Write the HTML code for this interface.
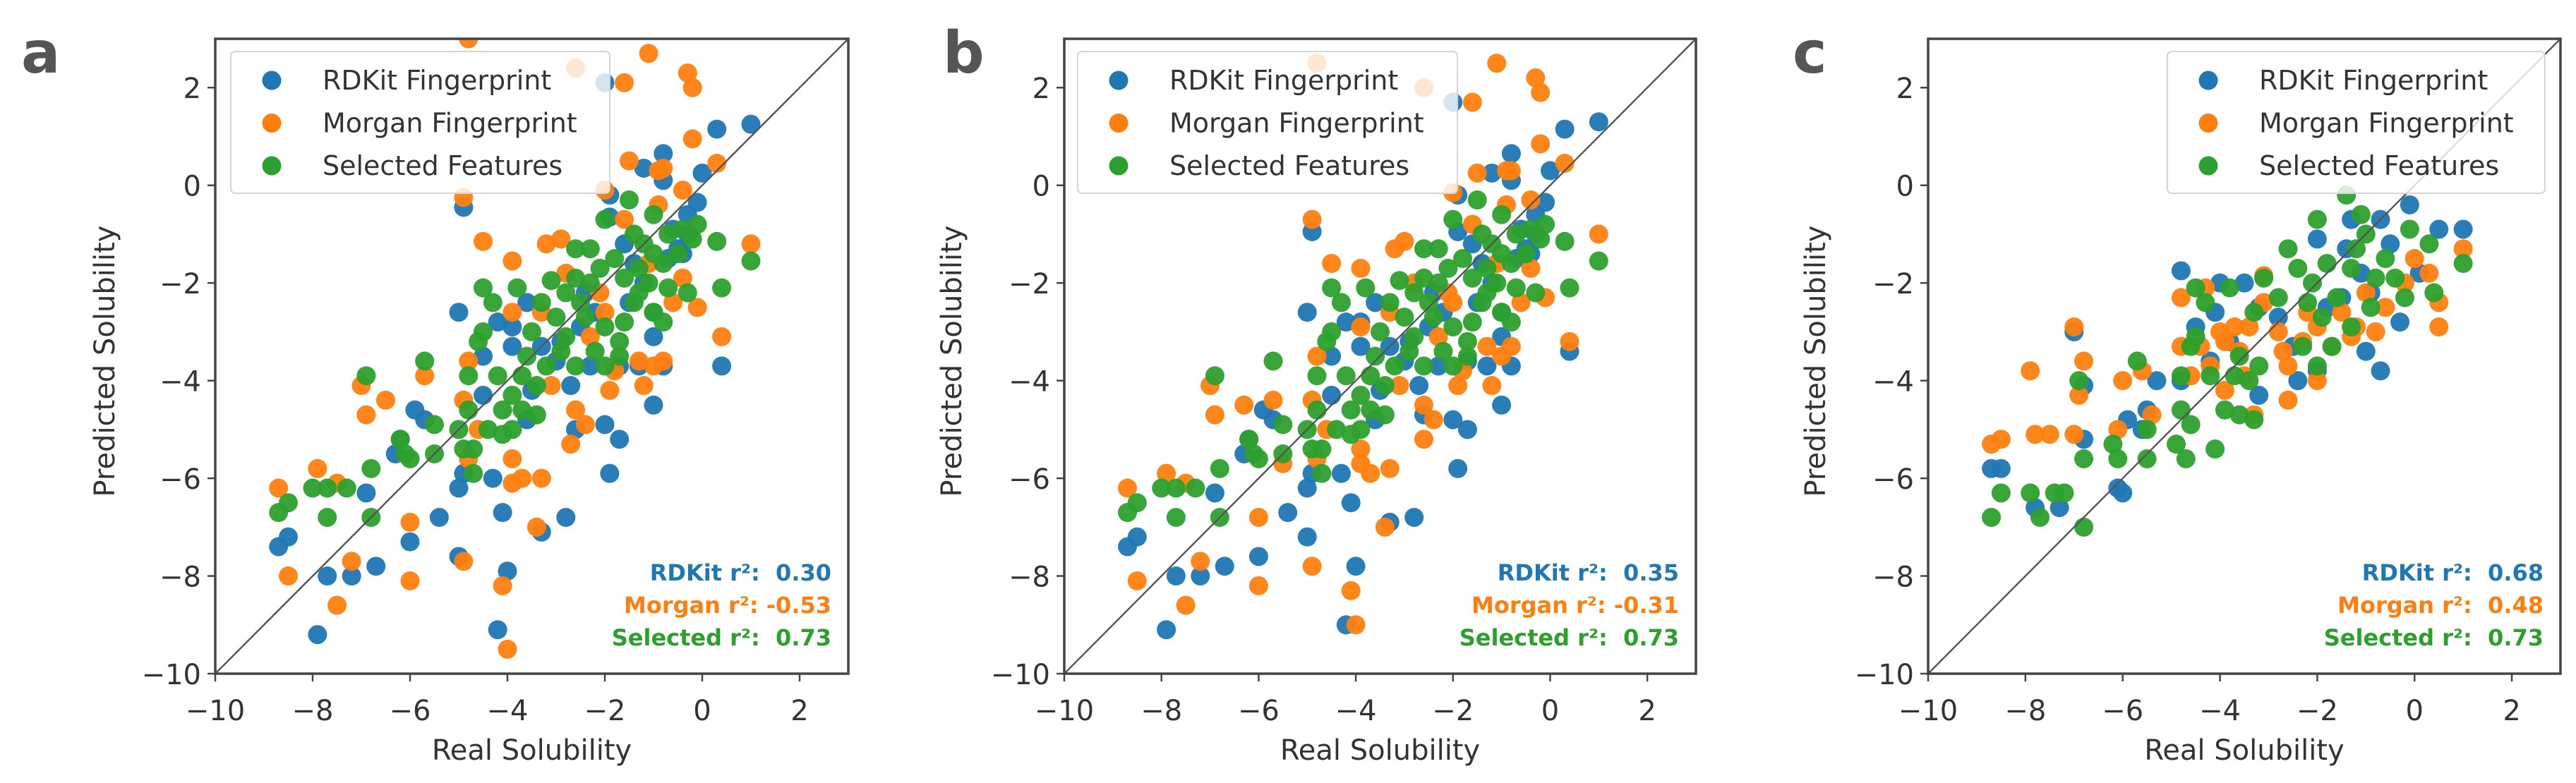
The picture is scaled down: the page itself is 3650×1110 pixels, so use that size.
<!DOCTYPE html>
<html><head><meta charset="utf-8">
<style>
html,body{margin:0;padding:0;background:#fff;}
svg{display:block;}
text{font-family:"DejaVu Sans","Liberation Sans",sans-serif;}
</style></head>
<body>
<svg id="fig" width="3650" height="1110" viewBox="0 0 3650 1110" xmlns="http://www.w3.org/2000/svg"></svg>
<script>
// ---------- data (x = real solubility, y = predicted solubility) ----------
const xTicks = [-10, -8, -6, -4, -2, 0, 2];
const yTicks = [-10, -8, -6, -4, -2, 0, 2];
const seriesNames = ["RDKit Fingerprint", "Morgan Fingerprint", "Selected Features"];
const panelLetters = ["a", "b", "c"];
const r2RDKit = ["0.30", "0.35", "0.68"];
const r2Morgan = ["-0.53", "-0.31", "0.48"];
const r2Selected = ["0.73", "0.73", "0.73"];

const aBlue = [[1.0,1.25],[0.3,1.15],[-0.8,0.65],[-0.8,0.1],[-1.2,0.35],[0,0.25],[-0.1,-0.35],[-0.3,-0.6],[-0.4,-1.4],[-1.9,-0.2],[-1.9,-0.65],[-4.9,-0.45],[-2,2.1],[-5,-2.6],[-4.5,-3.5],[-3.3,-3.3],[-3.6,-2.4],[-3.9,-2.9],[-2.5,-2.9],[-2.3,-3.7],[-2.7,-4.1],[-3.5,-4.2],[-1.7,-3.7],[-1.3,-3.7],[-1.0,-3.1],[-1.0,-4.5],[-0.8,-3.7],[0.4,-3.7],[-1.5,-2.4],[-1.0,-2.6],[-1.7,-5.2],[-1.9,-5.9],[-2.0,-4.9],[-2.6,-5.0],[-4.5,-4.3],[-5.9,-4.6],[-5.7,-4.8],[-6.2,-5.2],[-6.3,-5.5],[-4.9,-5.9],[-4.3,-6.0],[-5.0,-6.2],[-4.1,-6.7],[-3.3,-7.1],[-2.8,-6.8],[-5.4,-6.8],[-6.0,-7.3],[-6.9,-6.3],[-6.7,-7.8],[-7.2,-8.0],[-7.7,-8.0],[-7.9,-9.2],[-8.7,-7.4],[-8.5,-7.2],[-5.0,-7.6],[-4.0,-7.9],[-4.2,-9.1],[-2.2,-2.6],[-2.9,-3.2],[-0.5,-1.3],[-0.6,-0.9],[-1.4,-1.6],[-4.2,-2.8],[-3.6,-4.8],[-1.2,-2.0],[-0.3,-1.0],[-0.7,-1.5],[-1.6,-1.2],[-2.4,-2.2],[-3.0,-3.6],[-3.9,-3.3]];
const aOrange = [[-4.8,3.0],[-2.6,2.4],[-1.1,2.7],[-1.6,2.1],[-0.3,2.3],[-0.2,2.0],[-0.2,0.95],[0.3,0.45],[-1.5,0.5],[-0.9,0.3],[-0.8,0.35],[-2.0,-0.1],[-4.9,-0.25],[-0.4,-0.1],[-4.5,-1.15],[-3.9,-1.55],[-3.2,-1.2],[-2.9,-1.1],[-1.6,-0.7],[-0.9,-0.4],[-0.4,-1.9],[-0.1,-2.5],[0.4,-3.1],[1.0,-1.2],[-2.1,-2.2],[-2.8,-1.8],[-3.9,-2.6],[-3.3,-2.6],[-2.0,-2.6],[-1.3,-3.6],[-1.0,-3.7],[-0.8,-3.6],[-1.2,-4.1],[-1.8,-3.8],[-1.9,-4.2],[-3.1,-4.1],[-4.8,-3.6],[-4.9,-4.4],[-2.6,-4.6],[-2.4,-4.9],[-2.7,-5.3],[-5.7,-3.9],[-6.5,-4.4],[-6.9,-4.7],[-7.0,-4.1],[-4.6,-5.0],[-4.8,-5.6],[-3.9,-5.6],[-3.7,-6.0],[-3.3,-6.0],[-3.9,-6.1],[-7.9,-5.8],[-7.5,-6.1],[-8.7,-6.2],[-6.0,-6.9],[-6.0,-8.1],[-7.2,-7.7],[-7.5,-8.6],[-8.5,-8.0],[-4.9,-7.7],[-4.1,-8.2],[-4.0,-9.5],[-3.4,-7.0],[-1.1,-1.6],[-0.6,-2.4],[-2.3,-3.1]];
const aGreen = [[-1.5,-0.3],[-2.0,-0.7],[-1.0,-0.6],[-0.1,-0.8],[-0.2,-1.1],[0.3,-1.15],[1.0,-1.55],[-0.7,-1.0],[-0.4,-0.9],[-1.0,-1.4],[-1.4,-1.0],[-2.3,-1.3],[-2.6,-1.3],[-2.1,-1.7],[-2.6,-1.9],[-1.3,-1.7],[-0.8,-1.6],[-1.6,-1.9],[-2.3,-2.0],[-3.1,-1.95],[-3.8,-2.1],[-4.5,-2.1],[-4.3,-2.4],[-1.1,-2.0],[-0.7,-2.1],[-0.3,-2.2],[0.4,-2.1],[-2.8,-2.2],[-1.4,-2.4],[-1.0,-2.6],[-2.4,-2.7],[-3.3,-2.4],[-2.0,-2.9],[-1.6,-2.8],[-0.8,-2.8],[-2.8,-3.1],[-3.0,-2.7],[-1.7,-3.2],[-2.2,-3.4],[-4.5,-3.0],[-4.6,-3.2],[-3.6,-3.5],[-3.2,-3.7],[-2.6,-3.7],[-2.0,-3.7],[-1.7,-3.5],[-4.8,-3.9],[-4.2,-3.9],[-3.7,-3.9],[-3.4,-4.1],[-3.9,-4.3],[-4.1,-4.6],[-3.7,-4.6],[-3.4,-4.7],[-4.8,-4.6],[-4.4,-5.0],[-3.9,-5.0],[-4.1,-5.1],[-5.0,-5.0],[-4.9,-5.4],[-4.7,-5.4],[-4.7,-5.9],[-5.5,-4.9],[-5.5,-5.5],[-5.7,-3.6],[-6.2,-5.2],[-6.1,-5.5],[-6.0,-5.6],[-6.9,-3.9],[-6.8,-5.8],[-6.8,-6.8],[-7.7,-6.8],[-7.7,-6.2],[-7.3,-6.2],[-8.0,-6.2],[-8.5,-6.5],[-8.7,-6.7],[-1.2,-1.2],[-1.8,-1.5],[-0.5,-1.4],[-2.5,-2.4],[-3.5,-3.0],[-2.9,-3.4],[-1.3,-2.2]];

const bBlue = [[1.0,1.3],[0.3,1.15],[-0.8,0.65],[-0.8,0.1],[-1.2,0.25],[0,0.3],[-0.1,-0.35],[-0.3,-0.6],[-0.4,-1.4],[-1.9,-0.2],[-1.9,-0.95],[-4.9,-0.95],[-2,1.7],[-5,-2.6],[-4.5,-3.5],[-3.3,-3.3],[-3.6,-2.4],[-3.9,-2.8],[-2.5,-2.9],[-2.3,-3.7],[-2.7,-4.1],[-3.5,-4.2],[-1.7,-3.6],[-1.3,-3.7],[-1.0,-3.1],[-1.0,-4.5],[-0.8,-3.7],[0.4,-3.4],[-1.5,-2.4],[-1.0,-2.6],[-1.7,-5.0],[-1.9,-5.8],[-2.0,-4.8],[-2.6,-4.7],[-4.5,-4.3],[-5.9,-4.6],[-5.7,-4.8],[-6.2,-5.2],[-6.3,-5.5],[-4.9,-5.9],[-4.3,-5.9],[-5.0,-6.2],[-4.1,-6.5],[-3.3,-6.9],[-2.8,-6.8],[-5.4,-6.7],[-6.0,-7.6],[-6.9,-6.3],[-6.7,-7.8],[-7.2,-8.0],[-7.7,-8.0],[-7.9,-9.1],[-8.7,-7.4],[-8.5,-7.2],[-5.0,-7.2],[-4.0,-7.8],[-4.2,-9.0],[-2.2,-2.6],[-2.9,-3.2],[-0.5,-1.3],[-0.6,-0.9],[-1.4,-1.6],[-4.2,-2.8],[-3.6,-4.8],[-1.2,-2.0],[-0.3,-1.0],[-0.7,-1.5],[-1.6,-1.2],[-2.4,-2.2],[-3.0,-3.6],[-3.9,-3.3]];
const bOrange = [[-4.8,2.5],[-2.6,2.0],[-1.1,2.5],[-1.6,1.7],[-0.3,2.2],[-0.2,1.9],[-0.2,0.85],[0.3,0.45],[-1.5,0.25],[-0.9,0.3],[-0.8,0.3],[-2.0,-0.15],[-4.9,-0.7],[-0.4,-0.3],[-4.5,-1.6],[-3.9,-1.7],[-3.2,-1.3],[-3.0,-1.15],[-1.6,-0.8],[-0.9,-0.4],[-0.4,-1.7],[-0.1,-2.3],[0.4,-3.2],[1.0,-1.0],[-2.1,-2.2],[-2.8,-2.0],[-3.9,-2.9],[-3.3,-2.6],[-2.0,-2.4],[-1.3,-3.3],[-1.0,-3.5],[-0.8,-3.3],[-1.2,-4.1],[-1.8,-3.8],[-1.9,-4.1],[-3.1,-4.1],[-4.8,-3.5],[-4.9,-4.4],[-2.6,-4.5],[-2.4,-4.8],[-2.6,-5.2],[-5.7,-4.4],[-6.3,-4.5],[-6.9,-4.7],[-7.0,-4.1],[-4.6,-5.0],[-4.8,-5.6],[-3.9,-5.4],[-3.7,-5.9],[-3.3,-5.8],[-3.9,-5.7],[-7.9,-5.9],[-7.5,-6.1],[-8.7,-6.2],[-6.0,-6.8],[-6.0,-8.2],[-7.2,-7.7],[-7.5,-8.6],[-8.5,-8.1],[-4.9,-7.8],[-4.1,-8.3],[-4.0,-9.0],[-3.4,-7.0],[-5.5,-5.7],[-1.1,-1.6],[-0.6,-2.4],[-2.3,-3.1]];
const bGreen = aGreen;

const cBlue = [[1.0,-0.9],[0.5,-0.9],[-0.1,-0.4],[-0.7,-0.7],[-1.3,-0.7],[-2.0,-1.1],[-4.8,-1.75],[-4.0,-2.0],[-3.5,-2.0],[-4.1,-2.6],[-4.5,-2.9],[-3.2,-2.5],[-1.0,-3.4],[-0.7,-3.8],[-2.0,-3.8],[-2.4,-4.0],[-3.2,-4.3],[-4.8,-4.0],[-4.2,-3.6],[-5.3,-4.0],[-5.5,-4.6],[-5.9,-4.8],[-5.6,-5.0],[-6.8,-5.2],[-7.0,-3.0],[-6.8,-4.1],[-6.1,-6.2],[-6.0,-6.3],[-7.3,-6.6],[-7.8,-6.6],[-8.7,-5.8],[-8.5,-5.8],[-1.8,-2.5],[-1.1,-1.8],[-0.5,-1.2],[0.1,-1.8],[-2.5,-3.3],[-1.5,-2.3],[-3.8,-3.2],[-0.9,-2.2],[-0.3,-2.8],[-2.8,-2.7],[-1.4,-1.3]];
const cOrange = [[1.0,-1.3],[0.3,-1.8],[0.5,-2.4],[0.5,-2.9],[0.0,-1.5],[-0.2,-2.0],[-0.6,-2.5],[-0.8,-3.0],[-1.2,-2.9],[-1.5,-2.6],[-2.0,-2.9],[-2.3,-3.2],[-2.6,-3.7],[-2.8,-3.0],[-3.1,-2.4],[-3.1,-1.85],[-3.4,-2.9],[-3.6,-3.4],[-3.9,-3.2],[-4.2,-3.7],[-4.4,-3.3],[-4.8,-3.3],[-4.8,-2.3],[-4.3,-2.1],[-4.6,-3.9],[-3.9,-4.2],[-3.3,-4.7],[-2.6,-4.4],[-2.0,-4.0],[-1.7,-3.3],[-5.4,-4.7],[-5.6,-3.8],[-6.0,-4.0],[-6.1,-5.0],[-6.8,-3.6],[-6.9,-4.3],[-7.0,-2.9],[-7.9,-3.8],[-7.0,-5.1],[-7.5,-5.1],[-7.8,-5.1],[-8.5,-5.2],[-8.7,-5.3],[-1.0,-2.2],[-2.2,-2.6],[-3.5,-3.9],[-4.0,-3.0],[-1.3,-3.1],[-2.7,-3.4],[-3.7,-2.9]];
const cGreen = [[-1.4,-0.2],[-2.0,-0.7],[-1.1,-0.6],[-0.1,-0.9],[1.0,-1.6],[0.3,-1.2],[0.4,-2.2],[-0.2,-2.3],[-1.0,-1.0],[-0.6,-1.5],[-1.3,-1.7],[-2.6,-1.3],[-2.4,-1.7],[-2.1,-2.0],[-1.6,-2.3],[-0.9,-2.5],[-3.1,-1.9],[-3.8,-2.1],[-4.5,-2.1],[-4.3,-2.4],[-2.8,-2.3],[-1.9,-2.7],[-1.3,-2.9],[-3.3,-2.6],[-2.3,-3.3],[-2.0,-3.7],[-1.7,-3.3],[-3.6,-3.5],[-3.2,-3.7],[-4.5,-3.1],[-4.6,-3.3],[-4.8,-3.9],[-4.2,-3.9],[-3.7,-3.9],[-3.4,-4.0],[-3.9,-4.6],[-3.6,-4.7],[-3.3,-4.8],[-4.8,-4.6],[-4.6,-4.9],[-4.1,-5.4],[-4.9,-5.3],[-4.7,-5.6],[-5.5,-5.0],[-5.5,-5.6],[-5.7,-3.6],[-6.2,-5.3],[-6.1,-5.6],[-6.9,-4.0],[-6.8,-5.6],[-6.8,-7.0],[-7.2,-6.3],[-7.4,-6.3],[-7.7,-6.8],[-7.9,-6.3],[-8.5,-6.3],[-8.7,-6.8],[-1.2,-1.3],[-0.4,-1.9],[-1.8,-1.6],[-0.8,-1.9],[-2.2,-2.4]];

const panelSeries = [[aBlue,aOrange,aGreen],[bBlue,bOrange,bGreen],[cBlue,cOrange,cGreen]];

// ---------- layout ----------
const COLORS = ["#1f77b4","#ff7f0e","#2ca02c"];
const NS = "http://www.w3.org/2000/svg";
const svg = document.getElementById("fig");
const layouts = [
  {left:305, right:1202, letterX:30, ylabX:148, legL:327, legR:864},
  {left:1508, right:2403, letterX:1336, ylabX:1348, legL:1527, legR:2065},
  {left:2732, right:3628, letterX:2540, ylabX:2572, legL:3071, legR:3606}
];
const TOP = 55, BOTTOM = 955, XMIN = -10, XMAX = 3, YMIN = -10, YMAX = 3;

function el(tag, attrs, parent) {
  const e = document.createElementNS(NS, tag);
  for (const k in attrs) e.setAttribute(k, attrs[k]);
  (parent || svg).appendChild(e);
  return e;
}

layouts.forEach((L, p) => {
  const xs = v => L.left + (v - XMIN) / (XMAX - XMIN) * (L.right - L.left);
  const ys = v => BOTTOM - (v - YMIN) / (YMAX - YMIN) * (BOTTOM - TOP);
  const g = el("g", {});
  
  

  const clipId = "clip" + p;
  const cp = el("clipPath", {id: clipId}, g);
  el("rect", {x: L.left, y: TOP, width: L.right - L.left, height: BOTTOM - TOP}, cp);

  const lt = el("text", {x: L.letterX, y: 103, "font-size": 82, "font-weight": "bold", fill: "#555", "font-family": "Liberation Sans, sans-serif"}, g);
  lt.textContent = panelLetters[p];
  
  

  const pts = el("g", {"clip-path": "url(#" + clipId + ")"}, g);
  
  
  panelSeries[p].forEach((series, s) => {
    series.forEach(d => {
      const c = el("circle", {cx: xs(d[0]), cy: ys(d[1]), r: 13.5, fill: COLORS[s], "fill-opacity": 0.95}, pts);
      
      
    });
  });

  const diag = el("line", {x1: xs(-10), y1: ys(-10), x2: xs(3), y2: ys(3), stroke: "#555", "stroke-width": 2.4}, g);
  
  

  const lg = el("g", {}, g);
  
  
  el("rect", {x: L.legL, y: 73, width: L.legR - L.legL, height: 201, rx: 6, fill: "#fff", "fill-opacity": 0.8, stroke: "#d5d5d5", "stroke-width": 2}, lg);
  seriesNames.forEach((n, i) => {
    const cy = 114 + i * 60.5;
    const ent = el("g", {}, lg);
    
    
    el("circle", {cx: L.legL + 58, cy: cy, r: 13.5, fill: COLORS[i]}, ent);
    const t = el("text", {x: L.legL + 130, y: cy + 13, "font-size": 38, fill: "#333"}, ent);
    t.textContent = n;
  });

  const sp = el("rect", {x: L.left, y: TOP, width: L.right - L.left, height: BOTTOM - TOP, fill: "none", stroke: "#444", "stroke-width": 3.5}, g);
  
  

  xTicks.forEach(v => {
    el("line", {x1: xs(v), y1: BOTTOM, x2: xs(v), y2: BOTTOM + 11, stroke: "#444", "stroke-width": 2.5}, g);
    const t = el("text", {x: xs(v), y: 1021, "font-size": 40, fill: "#333", "text-anchor": "middle"}, g);
    t.textContent = (v < 0 ? "\u2212" + Math.abs(v) : String(v));
    
    
  });
  yTicks.forEach(v => {
    el("line", {x1: L.left - 11, y1: ys(v), x2: L.left, y2: ys(v), stroke: "#444", "stroke-width": 2.5}, g);
    const t = el("text", {x: L.left - 20, y: ys(v) + 15, "font-size": 40, fill: "#333", "text-anchor": "end"}, g);
    t.textContent = (v < 0 ? "\u2212" + Math.abs(v) : String(v));
    
    
  });

  const xl = el("text", {x: (L.left + L.right) / 2, y: 1077, "font-size": 40, fill: "#333", "text-anchor": "middle"}, g);
  xl.textContent = "Real Solubility";
  
  
  const yl = el("text", {x: 0, y: 0, "font-size": 40, fill: "#333", "text-anchor": "middle", transform: "translate(" + (L.ylabX + 14) + ",512) rotate(-90)"}, g);
  yl.textContent = "Predicted Solubility";
  
  

  const rx = L.right - 24;
  const rows = [["RDKit r\u00b2:  " + r2RDKit[p], COLORS[0]], ["Morgan r\u00b2: " + (r2Morgan[p].startsWith("-") ? "" : " ") + r2Morgan[p], COLORS[1]], ["Selected r\u00b2:  " + r2Selected[p], COLORS[2]]];
  rows.forEach((r, i) => {
    const t = el("text", {x: rx, y: 823 + i * 46, "font-size": 32, "font-weight": "bold", fill: r[1], "text-anchor": "end", "xml:space": "preserve"}, g);
    t.setAttribute("style", "white-space:pre");
    t.textContent = r[0];
    
    
  });
});
</script>
</body></html>
